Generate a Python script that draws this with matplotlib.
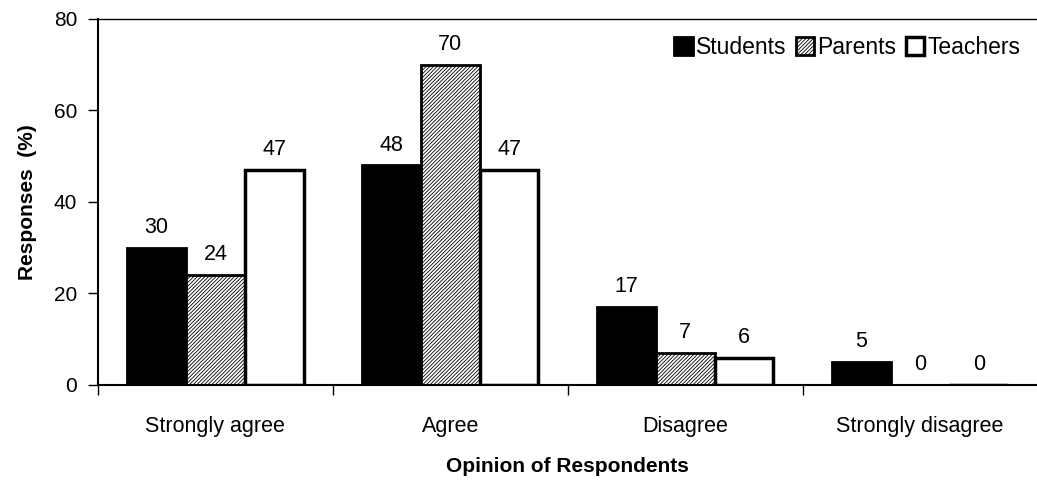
import numpy as np
import matplotlib.pyplot as plt

plt.rcParams['font.family'] = ['Liberation Sans', 'DejaVu Sans']
plt.rcParams['hatch.linewidth'] = 0.6

# Responses (%) by opinion
categories = ['Strongly agree', 'Agree', 'Disagree', 'Strongly disagree']
students = [30, 48, 17, 5]
parents = [24, 70, 7, 0]
teachers = [47, 47, 6, 0]

fig = plt.figure(figsize=(10.37, 4.83), dpi=100)
ax = fig.add_axes([0.0945, 0.203, 0.906, 0.7577])

x = np.arange(len(categories))
w = 0.25
b1 = ax.bar(x - w, students, w, color='black', edgecolor='black', linewidth=2, label='Students')
b2 = ax.bar(x, parents, w, color='white', edgecolor='black', linewidth=2, hatch='/////////', label='Parents')
b3 = ax.bar(x + w, teachers, w, color='white', edgecolor='black', linewidth=2.5, label='Teachers')

for bars in (b1, b2, b3):
    ax.bar_label(bars, padding=7, fontsize=15.5)

ax.set_xlim(-0.5, 3.5)
ax.set_ylim(0, 80)
ax.set_yticks([0, 20, 40, 60, 80])
ax.tick_params(axis='y', labelsize=15, length=7, width=1, pad=8)

# ticks at category boundaries, labels centered between them
ax.set_xticks(np.arange(-0.5, 3.6, 1.0))
ax.set_xticklabels([])
ax.set_xticks(x, minor=True)
ax.set_xticklabels(categories, minor=True, fontsize=15.5)
ax.tick_params(axis='x', which='major', length=7, width=1)
ax.tick_params(axis='x', which='minor', length=0, pad=22)

ax.spines['right'].set_visible(False)
ax.spines['top'].set_linewidth(1)
ax.spines['left'].set_linewidth(1.5)
ax.spines['bottom'].set_linewidth(1.5)

ax.set_ylabel('Responses  (%)', fontsize=15, fontweight='bold', labelpad=12)
ax.set_xlabel('Opinion of Respondents', fontsize=15, fontweight='bold', labelpad=15)

ax.legend(loc='upper right', frameon=False, fontsize=16.5, ncol=3,
          handlelength=0.8, handleheight=0.8, handletextpad=0.15,
          columnspacing=0.4, borderaxespad=0.35)

fig.savefig('out.png', dpi=100)
